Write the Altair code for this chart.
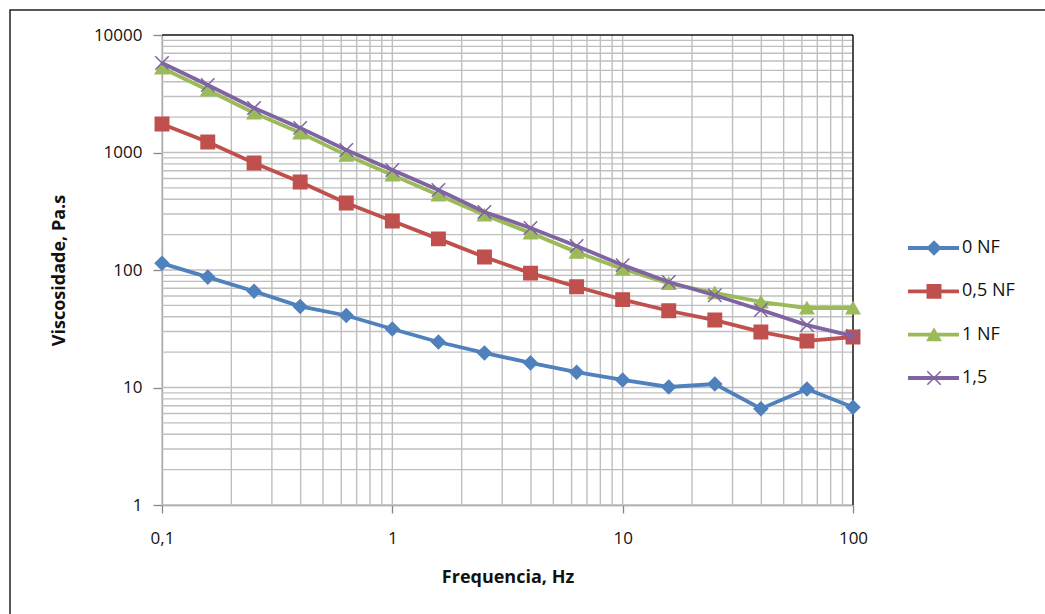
import altair as alt
import pandas as pd

# ---- data ----
FREQ = [0.1, 0.158, 0.251, 0.398, 0.631, 1, 1.585, 2.512, 3.981, 6.31, 10, 15.85, 25.12, 39.81, 63.1, 100]
NF0 = [114, 87, 66, 49, 41, 31.5, 24.4, 19.7, 16.2, 13.5, 11.6, 10.1, 10.7, 6.6, 9.7, 6.8]
NF05 = [1750, 1230, 814, 561, 372, 261, 184, 129, 94, 72, 56, 45, 37.5, 29.7, 24.9, 26.9]
NF1 = [5240, 3400, 2170, 1470, 950, 644, 435, 294, 207, 142, 102, 77, 64, 53.5, 47.5, 47.5]
NF15 = [5780, 3750, 2390, 1620, 1050, 710, 480, 312, 228, 160, 110, 79, 61, 45.7, 34, 27.4]

SERIES = ["0 NF", "0,5 NF", "1 NF", "1,5"]
COLORS = ["#4F81BD", "#C0504D", "#9BBB59", "#8064A2"]
X_PATH = "M-1,-1L1,1M1,-1L-1,1"
SHAPES = ["diamond", "square", "triangle-up", X_PATH]

GRID_X = [0.1, 0.2, 0.3, 0.4, 0.5, 0.6, 0.7, 0.8, 0.9,
          1, 2, 3, 4, 5, 6, 7, 8, 9,
          10, 20, 30, 40, 50, 60, 70, 80, 90, 100]
GRID_Y = [1, 2, 3, 4, 5, 6, 7, 8, 9,
          10, 20, 30, 40, 50, 60, 70, 80, 90,
          100, 200, 300, 400, 500, 600, 700, 800, 900,
          1000, 2000, 3000, 4000, 5000, 6000, 7000, 8000, 9000, 10000]
X_TICKS = [0.1, 1, 10, 100]
Y_TICKS = [1, 10, 100, 1000, 10000]

rows = []
for name, vals in zip(SERIES, [NF0, NF05, NF1, NF15]):
    for f, v in zip(FREQ, vals):
        rows.append({"Serie": name, "f": f, "v": v})
df = pd.DataFrame(rows)

W, H = 691, 470
FONT = "Open Sans"
LBL = 17
TTL = 18

xs = alt.Scale(type="log", domain=[0.1, 100], nice=False)
ys = alt.Scale(type="log", domain=[1, 10000], nice=False)
cs = alt.Scale(domain=SERIES, range=COLORS)
ss = alt.Scale(domain=SERIES, range=SHAPES)

XAX = alt.Axis(
    values=X_TICKS, grid=False, labelExpr="replace(toString(datum.value), '.', ',')",
    domainColor="#868686", domainWidth=1.3, tickColor="#868686", tickSize=8, tickWidth=1.3,
    labelFont=FONT, labelFontSize=LBL, labelColor="#111111", labelPadding=17, labelFlush=False,
    title="Frequencia, Hz", titleFont=FONT, titleFontSize=TTL, titleFontWeight="bold",
    titleColor="#111111", titlePadding=22)
YAX = alt.Axis(
    values=Y_TICKS, grid=False, format="d",
    domainColor="#868686", domainWidth=1.3, tickColor="#868686", tickSize=9, tickWidth=1.3,
    labelFont=FONT, labelFontSize=LBL, labelColor="#111111", labelPadding=11,
    title="Viscosidade, Pa.s", titleFont=FONT, titleFontSize=TTL, titleFontWeight="bold",
    titleColor="#111111", titleX=-94)

border = alt.Chart(pd.DataFrame({"a": [0]})).mark_rect(
    fillOpacity=0, stroke="#222222", strokeWidth=1.5
).encode(x=alt.value(-152), x2=alt.value(1045 - 162 + 20), y=alt.value(-25), y2=alt.value(614 - 35 + 20))

gx = alt.Chart(pd.DataFrame({"g": GRID_X})).mark_rule(color="#BFBFBF", strokeWidth=1.4).encode(
    x=alt.X("g:Q", scale=xs, axis=XAX, title="Frequencia, Hz"))
gy = alt.Chart(pd.DataFrame({"g": GRID_Y})).mark_rule(color="#BFBFBF", strokeWidth=1.4).encode(
    y=alt.Y("g:Q", scale=ys, axis=YAX, title="Viscosidade, Pa.s"))

frame_top = alt.Chart(pd.DataFrame({"a": [0]})).mark_rule(color="#222222", strokeWidth=1.5).encode(
    x=alt.value(0), x2=alt.value(W), y=alt.value(0))
frame_right = alt.Chart(pd.DataFrame({"a": [0]})).mark_rule(color="#222222", strokeWidth=1.5).encode(
    x=alt.value(W), y=alt.value(0), y2=alt.value(H))

layers = [border, gx, gy, frame_top, frame_right]
for name in SERIES:
    base = alt.Chart(df).transform_filter(alt.datum.Serie == name)
    enc = dict(
        x=alt.X("f:Q", scale=xs, axis=XAX, title="Frequencia, Hz"),
        y=alt.Y("v:Q", scale=ys, axis=YAX, title="Viscosidade, Pa.s"),
        color=alt.Color("Serie:N", scale=cs, legend=None),
    )
    line = base.mark_line(strokeWidth=3.8).encode(**enc)
    pts = base.mark_point(filled=True, size=180, opacity=1, strokeWidth=1.5).encode(
        stroke=alt.Stroke("Serie:N", scale=cs, legend=None),
        shape=alt.Shape("Serie:N", scale=ss, legend=None),
        **enc,
    )
    layers += [line, pts]

main = alt.layer(*layers)

# manual legend (Excel style: line with marker in the middle)
leg_df = pd.DataFrame({"Serie": SERIES})
ly = alt.Y("Serie:N", scale=alt.Scale(type="point", domain=SERIES, range=[248 - 35, 378 - 35], padding=0), axis=None)
leg_line = alt.Chart(leg_df).mark_rule(strokeWidth=3.8).encode(
    x=alt.value(908 - 162), x2=alt.value(959 - 162), y=ly,
    color=alt.Color("Serie:N", scale=cs, legend=None))
leg_pts = alt.Chart(leg_df).mark_point(filled=True, size=180, opacity=1, strokeWidth=1.5).encode(
    x=alt.value(934 - 162), y=ly,
    color=alt.Color("Serie:N", scale=cs, legend=None),
    stroke=alt.Stroke("Serie:N", scale=cs, legend=None),
    shape=alt.Shape("Serie:N", scale=ss, legend=None))
leg_txt = alt.Chart(leg_df).mark_text(align="left", baseline="middle", font=FONT, fontSize=18, color="#111111").encode(
    x=alt.value(962 - 162), y=ly, text="Serie:N")
legend = alt.layer(leg_line, leg_pts, leg_txt)

chart = alt.layer(main, legend).resolve_scale(y="independent").properties(
    width=W, height=H,
    autosize=alt.AutoSizeParams(type="none"),
    padding={"left": 162, "top": 35, "right": 1045 - 162 - W, "bottom": 614 - 35 - H},
    background="white",
).configure_view(stroke=None)

chart.save("out.html", embed_options={"renderer": "svg", "actions": False})
